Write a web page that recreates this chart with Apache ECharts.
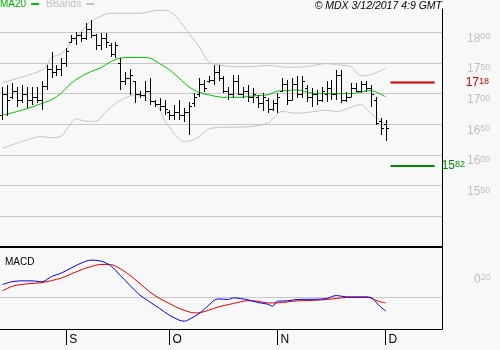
<!DOCTYPE html>
<html><head><meta charset="utf-8">
<script src="https://cdn.jsdelivr.net/npm/echarts@6/dist/echarts.min.js"></script>
<style>html,body{margin:0;padding:0;background:#f8f8f8}#c{width:500px;height:350px}</style>
</head><body><div id="c"></div>
<script>
// Trading days 15 Aug 2017 – 1 Dec 2017
const dates = [
 '08-15','08-16','08-17','08-18','08-21','08-22','08-23','08-24','08-25','08-28','08-29','08-30','08-31',
 '09-01','09-04','09-05','09-06','09-07','09-08','09-11','09-12','09-13','09-14','09-15','09-18','09-19','09-20','09-21','09-22','09-25','09-26','09-27','09-28','09-29',
 '10-02','10-03','10-04','10-05','10-06','10-09','10-10','10-11','10-12','10-13','10-16','10-17','10-18','10-19','10-20','10-23','10-24','10-25','10-26','10-27','10-30','10-31',
 '11-01','11-02','11-03','11-06','11-07','11-08','11-09','11-10','11-13','11-14','11-15','11-16','11-17','11-20','11-21','11-22','11-23','11-24','11-27','11-28','11-29','11-30',
 '12-01'];
const emptySlots = ['','','','','','','','','','',''];
const monthTickIdx = [13, 34, 56, 78];
const monthLabels = ['S', 'O', 'N', 'D'];

const opens  = [1665,1700,1695,1705,1690,1700,1690,1695,1690,1712,1740,1735,1740,1750,1785,1790,1795,1790,1805,1795,1780,1790,1780,1765,1750,1720,1725,1720,1700,1697,1705,1688,1683,1680,1670,1665,1670,1665,1670,1685,1700,1715,1720,1722,1735,1725,1705,1700,1720,1700,1705,1695,1695,1685,1690,1675,1685,1705,1715,1690,1715,1700,1710,1695,1700,1690,1700,1710,1700,1730,1690,1695,1710,1705,1715,1710,1690,1655,1650];
const highs  = [1711,1714,1717,1711,1714,1711,1711,1711,1720,1747,1768,1747,1758,1774,1796,1801,1801,1815,1820,1798,1799,1799,1783,1784,1758,1735,1740,1721,1705,1720,1725,1690,1693,1690,1673,1682,1690,1677,1687,1701,1725,1722,1728,1747,1747,1728,1711,1730,1730,1711,1714,1709,1698,1701,1693,1690,1701,1725,1722,1725,1728,1728,1714,1709,1706,1711,1720,1722,1739,1739,1703,1717,1717,1720,1720,1714,1695,1660,1657];
const lows   = [1657,1663,1692,1679,1685,1676,1682,1685,1673,1706,1725,1728,1728,1744,1782,1779,1785,1787,1790,1771,1771,1774,1760,1758,1706,1714,1698,1685,1693,1688,1682,1679,1671,1665,1657,1657,1657,1654,1633,1679,1695,1703,1717,1714,1720,1701,1690,1693,1698,1693,1687,1684,1676,1671,1668,1671,1668,1703,1682,1690,1693,1693,1687,1679,1682,1687,1687,1690,1690,1684,1687,1695,1703,1701,1703,1679,1649,1633,1623];
const closes = [1700,1690,1705,1690,1700,1690,1695,1690,1712,1740,1735,1740,1750,1770,1790,1795,1790,1805,1795,1780,1790,1785,1765,1780,1720,1725,1730,1700,1697,1705,1688,1683,1680,1675,1665,1670,1665,1670,1680,1695,1715,1710,1722,1735,1725,1705,1700,1720,1700,1705,1695,1700,1685,1695,1675,1685,1695,1715,1690,1715,1700,1720,1695,1700,1690,1705,1710,1700,1730,1690,1695,1710,1705,1715,1710,1700,1652,1644,1644];

// [bar index, value]
const ma20 = [[0,1665],[4,1673],[8,1684],[10,1690],[12,1701],[14,1717],[16,1728],[18,1736],[20,1742],[22,1752],[24,1758],[26,1759],[28,1759],[30,1758],[32,1749],[34,1739],[36,1725],[38,1711],[40,1702],[42,1698],[45,1694],[48,1694],[52,1697],[54,1698],[56,1704],[58,1705],[60,1706],[63,1701],[66,1700],[71,1700],[73,1703],[75,1705],[76,1703],[78,1695]];
const bbUpper = [[0,1718],[4,1727],[8,1738],[9,1745],[10,1759],[12,1765],[14,1783],[16,1801],[18,1818],[20,1826],[22,1831],[24,1831],[28,1831],[30,1834],[32,1836],[34,1834],[36,1820],[38,1798],[40,1777],[42,1752],[44,1747],[47,1744],[50,1744],[54,1746],[58,1743],[62,1744],[64,1747],[66,1749],[68,1747],[71,1744],[73,1729],[75,1731],[78,1741]];
const bbLower = [[0,1611],[4,1622],[8,1630],[10,1628],[12,1631],[14,1652],[15,1659],[17,1655],[19,1655],[21,1670],[23,1684],[25,1693],[27,1698],[29,1695],[31,1684],[32,1675],[33,1656],[35,1635],[37,1622],[39,1625],[41,1636],[42,1642],[44,1645],[50,1646],[54,1652],[57,1671],[60,1668],[66,1673],[68,1671],[73,1682],[75,1668],[78,1649]];
const macdLine = [[0,14.4],[2,17.6],[4,18.5],[6,18.5],[8,17.4],[10,23.2],[12,27.2],[14,32.8],[16,38.2],[18,41.5],[20,40.5],[22,35.5],[24,24.5],[26,13.2],[28,2.6],[30,-4.9],[32,-12.2],[34,-19.7],[36,-25.2],[37,-26.3],[38,-24.4],[40,-17.8],[42,-8.6],[43,-3.5],[44,-1.6],[46,-2.2],[47,-0.4],[50,-2.6],[52,-5.6],[54,-7.4],[55,-9.7],[56,-4.1],[58,-3.7],[60,-2.2],[64,-1.9],[66,-1.1],[68,2.2],[70,0.7],[74,0.7],[75,0],[76,-4.9],[77,-10.4],[78,-14.9]];
const signalLine = [[0,7.4],[2,12.5],[4,14.6],[6,15.6],[8,16.5],[10,18.8],[12,21.6],[14,26.2],[16,30.7],[18,34.3],[20,36.7],[22,36.6],[24,31.9],[26,24.4],[28,15.5],[30,6.2],[32,-1.1],[34,-6.7],[36,-12.2],[38,-16],[39,-17.1],[40,-17],[42,-14.1],[44,-10.4],[47,-6.7],[50,-3.5],[52,-4.1],[54,-6],[56,-6],[58,-4.9],[60,-3.7],[64,-3],[66,-2.2],[68,-1.1],[70,0],[74,0],[75,-0.5],[76,-3],[77,-4.9],[78,-6]];

const resistanceLevel = 1718;
const supportLevel = 1582;
const levelSpan = [79, 88];
const priceLabelRange = [1550, 1800];
const macdLabelValue = 20;

const cats = dates.concat(emptySlots);
const ohlc = opens.map((o, i) => [i, o, highs[i], lows[i], closes[i]]);
const FONT = "'Liberation Sans', Arial, sans-serif";
const splitNum = s => '{a|' + s.slice(0, s.length - 2) + '}{b|' + s.slice(s.length - 2) + '}';
const richFor = color => ({
  a: {fontSize: 12, fontFamily: FONT, color: color, lineHeight: 12, verticalAlign: 'top'},
  b: {fontSize: 9, fontFamily: FONT, color: color, lineHeight: 12, verticalAlign: 'top'}
});

const chart = echarts.init(document.getElementById('c'), null, {renderer: 'canvas'});
chart.setOption({
  animation: false,
  backgroundColor: '#f8f8f8',
  title: [
    {text: '© MDX 3/12/2017 4:9 GMT', right: 53, top: -4, textStyle: {fontSize: 10.5, fontStyle: 'italic', fontWeight: 'normal', color: '#000', fontFamily: FONT}},
    {text: 'MACD', left: 0, top: 252, textStyle: {fontSize: 10, fontWeight: 'normal', color: '#000', fontFamily: FONT}}
  ],
  legend: {
    left: 0, top: -1, padding: 0, icon: 'rect', itemWidth: 8, itemHeight: 2, itemGap: 7, align: 'right', selectedMode: false,
    textStyle: {fontSize: 10, fontFamily: FONT, padding: [0, 0, 0, 0]},
    data: [{name: 'MA20', textStyle: {color: '#00b000'}}, {name: 'BBands', textStyle: {color: '#c0c0c0'}}]
  },
  grid: [
    {left: 0, right: 58, top: 9, height: 238},
    {left: 0, right: 58, top: 248, height: 81}
  ],
  xAxis: [
    {type: 'category', gridIndex: 0, data: cats, boundaryGap: true,
     axisLine: {onZero: false, lineStyle: {color: '#000', width: 2}}, axisTick: {show: false}, axisLabel: {show: false}, splitLine: {show: false}},
    {type: 'category', gridIndex: 1, data: cats, boundaryGap: true,
     axisLine: {onZero: false, lineStyle: {color: '#000', width: 1}},
     axisTick: {show: true, alignWithLabel: true, length: 16, interval: i => monthTickIdx.includes(i), lineStyle: {color: '#000'}},
     axisLabel: {interval: i => monthTickIdx.includes(i), formatter: (v, i) => monthLabels[monthTickIdx.indexOf(i)] || '',
                 align: 'left', margin: 5, padding: [0, 0, 0, 3], fontSize: 12, color: '#000', fontFamily: FONT},
     splitLine: {show: false}}
  ],
  yAxis: [
    {type: 'value', gridIndex: 0, position: 'right', min: 1450, max: 1838, interval: 50,
     axisLine: {show: true, lineStyle: {color: '#000', width: 1}}, axisTick: {show: false},
     splitLine: {show: true, showMinLine: false, showMaxLine: false, lineStyle: {color: '#c8c8c8', width: 1}},
     axisLabel: {margin: 25, verticalAlign: 'top', padding: [0, 0, 0, 0],
                 formatter: v => (v >= priceLabelRange[0] && v <= priceLabelRange[1]) ? splitNum(String(v)) : '',
                 rich: richFor('#c0c0c0')}},
    {type: 'value', gridIndex: 1, position: 'right', min: -35, max: 55, interval: 5,
     axisLine: {show: true, onZero: false, lineStyle: {color: '#000', width: 1}}, axisTick: {show: false},
     splitLine: {show: false},
     axisLabel: {margin: 32, verticalAlign: 'middle',
                 formatter: v => v === macdLabelValue ? '{a|0}{b|' + macdLabelValue + '}' : '',
                 rich: richFor('#c0c0c0')}}
  ],
  series: [
    {name: 'BBands', type: 'line', xAxisIndex: 0, yAxisIndex: 0, data: bbUpper, showSymbol: false, smooth: 0.3,
     lineStyle: {color: '#c4c4c4', width: 1}, itemStyle: {color: '#c4c4c4'}, silent: true, z: 1},
    {name: 'BBands', type: 'line', xAxisIndex: 0, yAxisIndex: 0, data: bbLower, showSymbol: false, smooth: 0.3,
     lineStyle: {color: '#c4c4c4', width: 1}, itemStyle: {color: '#c4c4c4'}, silent: true, z: 1},
    {name: 'MA20', type: 'line', xAxisIndex: 0, yAxisIndex: 0, data: ma20, showSymbol: false, smooth: 0.3,
     lineStyle: {color: '#00c000', width: 1}, itemStyle: {color: '#00c000'}, silent: true, z: 2},
    {name: 'OHLC', type: 'custom', xAxisIndex: 0, yAxisIndex: 0, data: ohlc, encode: {x: 0, y: [1, 2, 3, 4]}, z: 3,
     renderItem: function (params, api) {
       const i = api.value(0);
       const pO = api.coord([i, api.value(1)]);
       const pH = api.coord([i, api.value(2)]);
       const pL = api.coord([i, api.value(3)]);
       const pC = api.coord([i, api.value(4)]);
       const x = Math.round(pH[0]) + 0.5;
       const yo = Math.round(pO[1]) + 0.5, yc = Math.round(pC[1]) + 0.5;
       const st = {stroke: '#000', lineWidth: 1};
       return {type: 'group', children: [
         {type: 'line', shape: {x1: x, y1: Math.round(pH[1]), x2: x, y2: Math.round(pL[1])}, style: st},
         {type: 'line', shape: {x1: x - 2.5, y1: yo, x2: x, y2: yo}, style: st},
         {type: 'line', shape: {x1: x, y1: yc, x2: x + 2.5, y2: yc}, style: st}
       ]};
     }},
    {name: 'R', type: 'line', xAxisIndex: 0, yAxisIndex: 0, showSymbol: false, silent: true,
     data: levelSpan.map(i => [i, resistanceLevel]), lineStyle: {color: '#cc0000', width: 2},
     endLabel: {show: true, distance: 31, formatter: () => splitNum(String(resistanceLevel)), rich: richFor('#cc0000'), verticalAlign: 'middle'}},
    {name: 'S', type: 'line', xAxisIndex: 0, yAxisIndex: 0, showSymbol: false, silent: true,
     data: levelSpan.map(i => [i, supportLevel]), lineStyle: {color: '#008800', width: 2},
     endLabel: {show: true, distance: 7, formatter: () => splitNum(String(supportLevel)), rich: richFor('#008800'), verticalAlign: 'middle'}},
    {name: 'MACD', type: 'line', xAxisIndex: 1, yAxisIndex: 1, data: macdLine, showSymbol: false, smooth: 0.3,
     lineStyle: {color: '#0000dd', width: 1}, silent: true, z: 3,
     markLine: {silent: true, symbol: 'none', label: {show: false}, lineStyle: {color: '#c8c8c8', type: 'solid', width: 1}, data: [{yAxis: 0}], z: 1}},
    {name: 'Signal', type: 'line', xAxisIndex: 1, yAxisIndex: 1, data: signalLine, showSymbol: false, smooth: 0.3,
     lineStyle: {color: '#dd0000', width: 1}, silent: true, z: 2}
  ]
});
</script></body></html>
